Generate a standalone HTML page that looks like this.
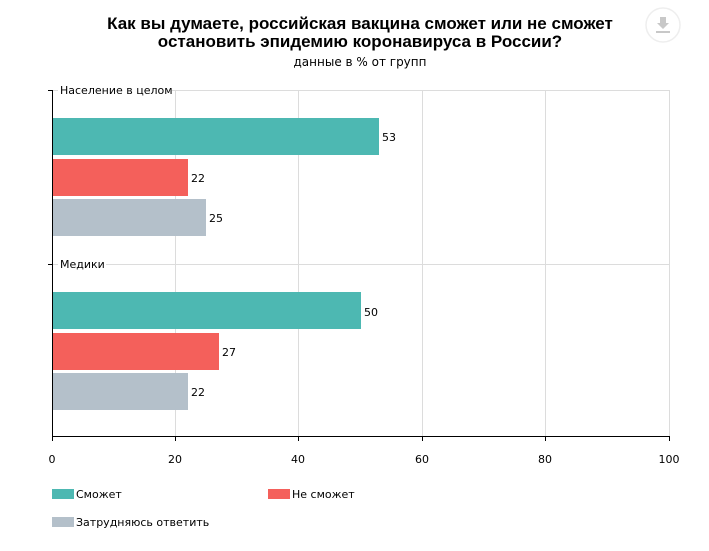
<!DOCTYPE html>
<html><head><meta charset="utf-8"><style>
body{margin:0;background:#fff;width:709px;height:546px;overflow:hidden;font-family:"Liberation Sans","DejaVu Sans",sans-serif}
</style></head><body>
<svg width="709" height="546" xmlns="http://www.w3.org/2000/svg" font-family="'DejaVu Sans','Liberation Sans',sans-serif">
<rect width="709" height="546" fill="#fff"/>
<text x="360" y="29" text-anchor="middle" font-size="17" font-weight="bold" fill="#000" font-family="'Liberation Sans',sans-serif">Как вы думаете, российская вакцина сможет или не сможет</text>
<text x="360" y="47" text-anchor="middle" font-size="17" font-weight="bold" fill="#000" font-family="'Liberation Sans',sans-serif">остановить эпидемию коронавируса в России?</text>
<text x="360" y="66" text-anchor="middle" font-size="12" fill="#000">данные в % от групп</text>
<circle cx="663" cy="25" r="17" fill="#fff" stroke="#eee" stroke-width="1.5"/>
<path d="M660 17h6v6h3l-6 6-6-6h3z" fill="#c8c8c8"/><rect x="656" y="31" width="14" height="2" fill="#c8c8c8"/>
<g stroke="#dcdcdc" stroke-width="1">
<line x1="175.5" y1="90" x2="175.5" y2="436"/><line x1="298.5" y1="90" x2="298.5" y2="436"/>
<line x1="422.5" y1="90" x2="422.5" y2="436"/><line x1="545.5" y1="90" x2="545.5" y2="436"/>
<line x1="669.5" y1="90" x2="669.5" y2="436"/>
<line x1="52" y1="90.5" x2="669" y2="90.5"/><line x1="52" y1="264.5" x2="669" y2="264.5"/>
</g>
<rect x="52" y="118" width="327" height="37" fill="#4db8b2"/>
<rect x="52" y="159" width="136" height="37" fill="#f4605b"/>
<rect x="52" y="199" width="154" height="37" fill="#b4c0ca"/>
<rect x="52" y="292" width="309" height="37" fill="#4db8b2"/>
<rect x="52" y="333" width="167" height="37" fill="#f4605b"/>
<rect x="52" y="373" width="136" height="37" fill="#b4c0ca"/>
<g font-size="11" fill="#000">
<text x="382" y="141">53</text><text x="191" y="182">22</text><text x="209" y="222">25</text>
<text x="364" y="316">50</text><text x="222" y="356">27</text><text x="191" y="396">22</text>
</g>
<rect x="58" y="84" width="114" height="13" fill="#fff"/>
<text x="60" y="94" font-size="11">Население в целом</text>
<rect x="58" y="258" width="48" height="13" fill="#fff"/>
<text x="60" y="268" font-size="11">Медики</text>
<line x1="52.5" y1="90" x2="52.5" y2="437" stroke="#000"/>
<line x1="48" y1="90.5" x2="52" y2="90.5" stroke="#000"/>
<line x1="48" y1="264.5" x2="52" y2="264.5" stroke="#000"/>
<line x1="52" y1="436.5" x2="669" y2="436.5" stroke="#000"/>
<g stroke="#000"><line x1="175.5" y1="436" x2="175.5" y2="441"/><line x1="298.5" y1="436" x2="298.5" y2="441"/><line x1="422.5" y1="436" x2="422.5" y2="441"/><line x1="545.5" y1="436" x2="545.5" y2="441"/><line x1="669.5" y1="436" x2="669.5" y2="441"/><line x1="52.5" y1="436" x2="52.5" y2="441"/></g>
<g font-size="11" text-anchor="middle">
<text x="52" y="463">0</text><text x="175" y="463">20</text><text x="298" y="463">40</text><text x="422" y="463">60</text><text x="545" y="463">80</text><text x="669" y="463">100</text>
</g>
<rect x="52" y="489" width="22" height="10" fill="#4db8b2"/><text x="76" y="498" font-size="11">Сможет</text>
<rect x="268" y="489" width="22" height="10" fill="#f4605b"/><text x="292" y="498" font-size="11">Не сможет</text>
<rect x="52" y="517" width="22" height="10" fill="#b4c0ca"/><text x="76" y="526" font-size="11">Затрудняюсь ответить</text>
</svg>
</body></html>
